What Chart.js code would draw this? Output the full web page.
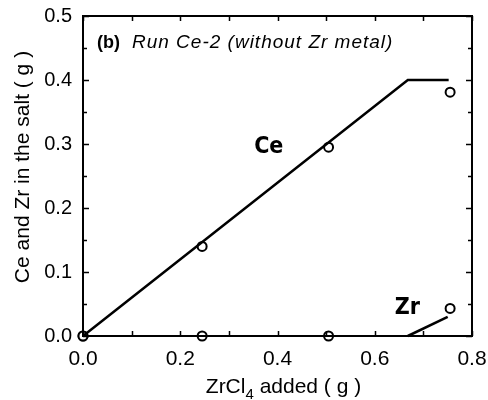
<!DOCTYPE html>
<html><head><meta charset="utf-8">
<script src="https://cdn.jsdelivr.net/npm/chart.js@4/dist/chart.umd.min.js"></script>
<style>html,body{margin:0;padding:0;background:#fff}#w{width:488px;height:400px}</style>
</head><body><div id="w"><canvas id="c" width="488" height="400"></canvas></div>
<script>
const ceX = [0, 0.245, 0.505, 0.755];
const ceY = [0, 0.140, 0.295, 0.381];
const zrX = [0, 0.245, 0.505, 0.755];
const zrY = [0, 0, 0, 0.043];
const ceFitX = [0, 0.668, 0.752];
const ceFitY = [0, 0.400, 0.400];
const zrFitX = [0.668, 0.750];
const zrFitY = [0, 0.030];
const xTicks = [0, 0.2, 0.4, 0.6, 0.8];
const yTicks = [0, 0.1, 0.2, 0.3, 0.4, 0.5];
const panelTitleBold = "(b)";
const panelTitleItalic = "Run Ce-2 (without Zr metal)";
const ceLabel = "Ce", zrLabel = "Zr";
const yTitle = "Ce and Zr in the salt ( g )";
const xTitleParts = ["ZrCl", "4", " added ( g )"];

const pts = (xs, ys) => xs.map((x, i) => ({x, y: ys[i]}));
const F = "'Liberation Sans', Arial, sans-serif";

const deco = {
  id: 'deco',
  afterDatasetsDraw(chart) {
    const {ctx, chartArea: a, scales: {x, y}} = chart;
    ctx.save();
    ctx.strokeStyle = '#000';
    ctx.lineWidth = 2;
    ctx.strokeRect(a.left, a.top, a.right - a.left, a.bottom - a.top);
    ctx.lineWidth = 1.5;
    ctx.beginPath();
    for (let v = 0; v <= 0.8001; v += 0.1) {
      const px = Math.round(x.getPixelForValue(v)) + 0.5;
      ctx.moveTo(px, a.bottom); ctx.lineTo(px, a.bottom - 5);
      ctx.moveTo(px, a.top); ctx.lineTo(px, a.top + 5);
    }
    for (let v = 0; v <= 0.5001; v += 0.05) {
      const py = Math.round(y.getPixelForValue(v)) + 0.5;
      const L = (Math.round(v * 100) % 10 === 0) ? 6 : 4;
      ctx.moveTo(a.left, py); ctx.lineTo(a.left + L, py);
      ctx.moveTo(a.right, py); ctx.lineTo(a.right - L, py);
    }
    ctx.stroke();
    // panel title
    ctx.fillStyle = '#000';
    ctx.textBaseline = 'middle';
    ctx.textAlign = 'left';
    ctx.font = "bold 18px " + F;
    const tx = a.left + 14, ty = a.top + 27;
    ctx.fillText(panelTitleBold, tx, ty);
    const w = ctx.measureText(panelTitleBold).width;
    ctx.font = "italic 19px " + F;
    if ('letterSpacing' in ctx) ctx.letterSpacing = '1px';
    ctx.fillText(panelTitleItalic, tx + w + 12, ty);
    if ('letterSpacing' in ctx) ctx.letterSpacing = '0px';
    // series labels
    ctx.font = "bold 23px 'DejaVu Sans Condensed', 'DejaVu Sans', sans-serif";
    ctx.textAlign = 'center';
    ctx.fillText(ceLabel, x.getPixelForValue(0.382), y.getPixelForValue(0.296));
    ctx.fillText(zrLabel, x.getPixelForValue(0.667), y.getPixelForValue(0.043));
    // y title
    ctx.save();
    ctx.translate(23, 167);
    ctx.rotate(-Math.PI / 2);
    ctx.font = "21px " + F;
    ctx.textAlign = 'center';
    ctx.textBaseline = 'middle';
    ctx.fillText(yTitle, 0, 0);
    ctx.restore();
    // x title with subscript
    ctx.textAlign = 'left';
    ctx.textBaseline = 'alphabetic';
    ctx.font = "21px " + F;
    const w0 = ctx.measureText(xTitleParts[0]).width;
    ctx.font = "15px " + F;
    const w1 = ctx.measureText(xTitleParts[1]).width;
    ctx.font = "21px " + F;
    const w2 = ctx.measureText(xTitleParts[2]).width;
    const sx = (a.left + a.right) / 2 - (w0 + w1 + w2) / 2 + 6;
    const by = 393;
    ctx.fillText(xTitleParts[0], sx, by);
    ctx.font = "15px " + F;
    ctx.fillText(xTitleParts[1], sx + w0, by + 6);
    ctx.font = "21px " + F;
    ctx.fillText(xTitleParts[2], sx + w0 + w1, by);
    ctx.restore();
  }
};

new Chart(document.getElementById('c'), {
  type: 'scatter',
  data: {
    datasets: [
      {data: pts(ceFitX, ceFitY), showLine: true, borderColor: '#000', borderWidth: 2.5, pointRadius: 0, fill: false},
      {data: pts(zrFitX, zrFitY), showLine: true, borderColor: '#000', borderWidth: 2.5, pointRadius: 0, fill: false},
      {data: pts(zrX, zrY), showLine: false, pointRadius: 4.5, pointBackgroundColor: '#fff', pointBorderColor: '#000', pointBorderWidth: 2},
      {data: pts(ceX, ceY), showLine: false, pointRadius: 4.5, pointBackgroundColor: '#fff', pointBorderColor: '#000', pointBorderWidth: 2}
    ]
  },
  options: {
    responsive: false,
    animation: false,
    clip: false,
    layout: {padding: {left: 0, right: 16, top: 16, bottom: 0}},
    plugins: {legend: {display: false}, tooltip: {enabled: false}},
    scales: {
      x: {
        type: 'linear', min: 0, max: 0.8,
        afterBuildTicks: s => { s.ticks = xTicks.map(v => ({value: v})); },
        afterFit: s => { s.height = 64; s.paddingLeft = 0; s.paddingRight = 0; },
        grid: {display: false, drawTicks: false},
        border: {display: false},
        ticks: {color: '#000', padding: 11, font: {family: F, size: 21}, callback: v => Number(v).toFixed(1), maxRotation: 0}
      },
      y: {
        type: 'linear', min: 0, max: 0.5,
        afterBuildTicks: s => { s.ticks = yTicks.map(v => ({value: v})); },
        afterFit: s => { s.width = 83; s.paddingTop = 0; s.paddingBottom = 0; },
        grid: {display: false, drawTicks: false},
        border: {display: false},
        ticks: {color: '#000', padding: 11, font: {family: F, size: 20}, callback: v => Number(v).toFixed(1)}
      }
    }
  },
  plugins: [deco]
});
</script></body></html>
